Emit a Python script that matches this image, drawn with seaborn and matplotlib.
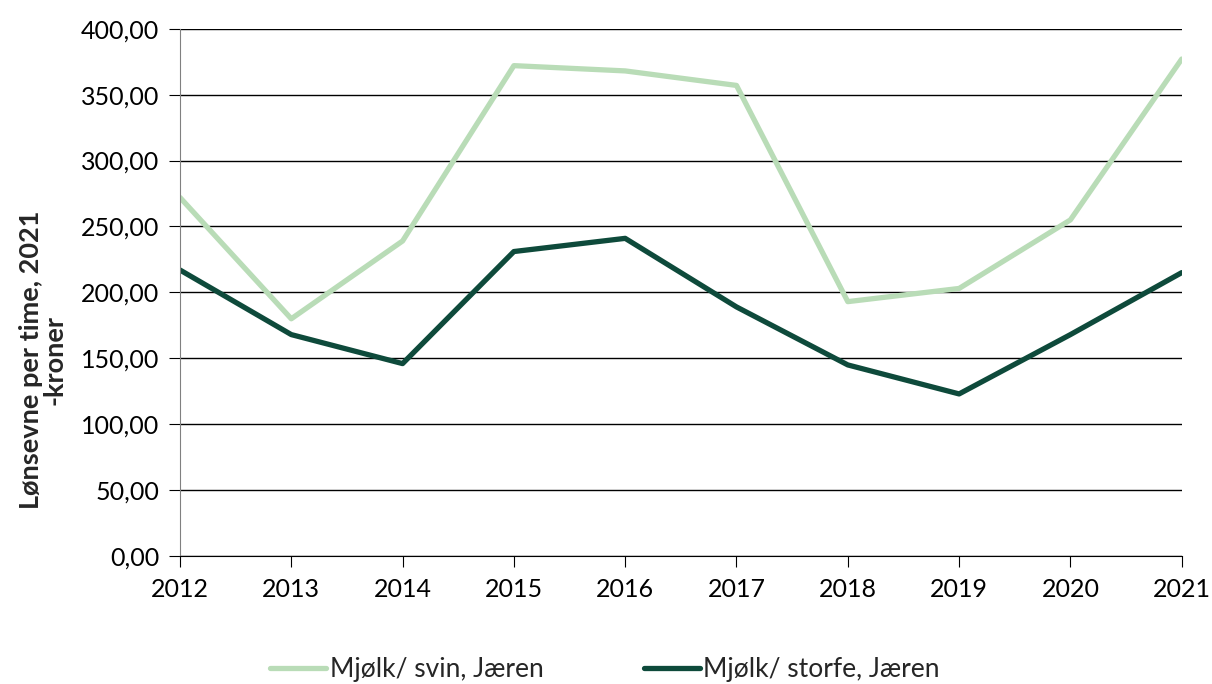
import pandas as pd
import seaborn as sns
import matplotlib.pyplot as plt
from matplotlib.ticker import FuncFormatter

# Data
years = [2012, 2013, 2014, 2015, 2016, 2017, 2018, 2019, 2020, 2021]
svin = [272, 180, 239, 372, 368, 357, 193, 203, 255, 377]
storfe = [217, 168, 146, 231, 241, 189, 145, 123, 168, 215]
series_names = ["Mjølk/ svin, Jæren", "Mjølk/ storfe, Jæren"]
colors = ["#b9dcb7", "#0e4a3b"]

df = pd.DataFrame({"år": years, series_names[0]: svin, series_names[1]: storfe})
long = df.melt(id_vars="år", var_name="serie", value_name="verdi")

sns.set_style("white")
plt.rcParams["font.family"] = ["Lato", "DejaVu Sans"]

fig, ax = plt.subplots(figsize=(12.12, 6.84), dpi=100)
fig.subplots_adjust(left=0.1485, right=0.975, top=0.958, bottom=0.187)

sns.lineplot(data=long, x="år", y="verdi", hue="serie", palette=colors,
             linewidth=3.8, ax=ax, solid_capstyle="round", legend=False)

ax.set_xlim(2012, 2021)
ax.set_ylim(0, 400)
ax.set_yticks(range(0, 401, 50))
ax.set_xticks(years)
ax.yaxis.set_major_formatter(FuncFormatter(lambda v, p: f"{v:.2f}".replace(".", ",")))
ax.grid(axis="y", color="black", linewidth=1)
ax.set_axisbelow(True)

for s in ["top", "right"]:
    ax.spines[s].set_visible(False)
ax.spines["left"].set_color("#808080")
ax.spines["bottom"].set_color("black")
ax.tick_params(axis="both", labelsize=18, colors="black", length=8, direction="out",
               left=True, bottom=True)
ax.tick_params(axis="y", pad=7)
ax.tick_params(axis="x", pad=8)

ax.set_xlabel("")
ax.set_ylabel("Lønsevne per time, 2021\n-kroner", fontsize=19.5, fontweight="bold",
              linespacing=1.0)
ax.yaxis.set_label_coords(-0.113, 0.372)

handles = [plt.Line2D([0], [0], color=c, linewidth=3.8, solid_capstyle="round") for c in colors]
fig.legend(handles, series_names, loc="lower center", ncol=2, frameon=False,
           fontsize=19, bbox_to_anchor=(0.499, -0.032), handlelength=2.15, handletextpad=0.12,
           columnspacing=3.8)

fig.savefig("out.png", dpi=100)
